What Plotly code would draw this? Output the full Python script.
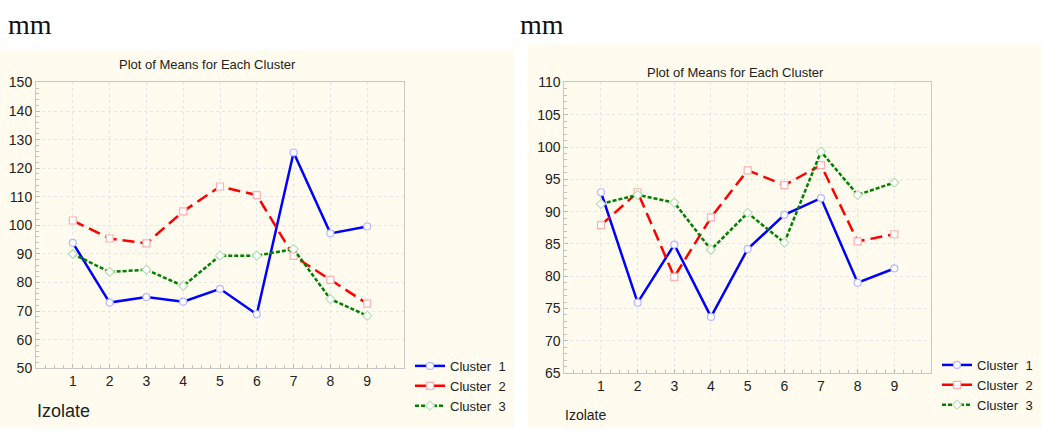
import plotly.graph_objects as go

W, H = 1042, 436

izolates = [1, 2, 3, 4, 5, 6, 7, 8, 9]
cluster_names = ["Cluster\u00a0 1", "Cluster\u00a0 2", "Cluster\u00a0 3"]

left_c1 = [93.9, 73.0, 74.9, 73.3, 77.8, 68.9, 125.5, 97.2, 99.6]
left_c2 = [101.7, 95.4, 93.7, 104.9, 113.6, 110.6, 89.3, 80.9, 72.6]
left_c3 = [90.0, 83.7, 84.5, 78.8, 89.4, 89.4, 91.7, 74.2, 68.4]

right_c1 = [93.0, 75.9, 84.9, 73.7, 84.2, 89.5, 92.1, 79.0, 81.2]
right_c2 = [87.9, 93.0, 79.9, 89.1, 96.4, 94.1, 97.2, 85.4, 86.5]
right_c3 = [91.2, 92.6, 91.4, 84.1, 89.8, 85.2, 99.3, 92.6, 94.5]

left_yticks = [50, 60, 70, 80, 90, 100, 110, 120, 130, 140, 150]
right_yticks = [65, 70, 75, 80, 85, 90, 95, 100, 105, 110]

line_styles = [
    dict(color="#0000ff", dash="solid", symbol="circle", edge="#b4b8ff"),
    dict(color="#ff0000", dash="12px,6px", symbol="square", edge="#ffb0b0"),
    dict(color="#008000", dash="4px,2px", symbol="diamond", edge="#b8e0b8"),
]

def px(x):
    return x / W

def py(y):
    return 1 - y / H

fig = go.Figure()

panels = [
    ("x", "y", "legend", [left_c1, left_c2, left_c3]),
    ("x2", "y2", "legend2", [right_c1, right_c2, right_c3]),
]
for xa, ya, leg, series in panels:
    for name, vals, st in zip(cluster_names, series, line_styles):
        fig.add_trace(go.Scatter(
            x=izolates, y=vals, name=name, mode="lines+markers",
            xaxis=xa, yaxis=ya, legend=leg,
            line=dict(color=st["color"], width=2.5, dash=st["dash"]),
            marker=dict(symbol=st["symbol"], size=7, color="white",
                        line=dict(color=st["edge"], width=1.2)),
        ))

font = "Liberation Sans, Arial, sans-serif"
axis_common = dict(
    showline=True, mirror=True, linecolor="#c8c8c8", linewidth=1,
    showgrid=True, gridcolor="#e6e6e6", griddash="dot", gridwidth=1,
    ticks="inside", ticklen=4, tickcolor="#bbbbbb",
    zeroline=False, tickfont=dict(family=font, size=14, color="#222222"),
)

fig.update_layout(
    width=W, height=H, autosize=False,
    margin=dict(l=0, r=0, t=0, b=0),
    paper_bgcolor="white", plot_bgcolor="white",
    xaxis=dict(domain=[px(36), px(404)], range=[0, 10], tickvals=izolates,
               minor=dict(dtick=0.25, tick0=0, ticks="inside", ticklen=3, tickcolor="#c0c0c0", showgrid=False),
               anchor="y", **axis_common),
    yaxis=dict(domain=[py(374), py(77.3)], range=[50, 150], tickvals=left_yticks,
               minor=dict(dtick=2, tick0=50, ticks="inside", ticklen=3, tickcolor="#c0c0c0", showgrid=False),
               anchor="x", **axis_common),
    xaxis2=dict(domain=[px(564.3), px(931)], range=[0, 10], tickvals=izolates,
                minor=dict(dtick=0.25, tick0=0, ticks="inside", ticklen=3, tickcolor="#c0c0c0", showgrid=False),
                anchor="y2", **axis_common),
    yaxis2=dict(domain=[py(379), py(77.3)], range=[65, 110], tickvals=right_yticks,
                minor=dict(dtick=1, tick0=65, ticks="inside", ticklen=3, tickcolor="#c0c0c0", showgrid=False),
                anchor="x2", **axis_common),
    legend=dict(x=px(410), y=py(356), xanchor="left", yanchor="top",
                bgcolor="rgba(0,0,0,0)", font=dict(family=font, size=13, color="#222222"),
                tracegroupgap=0, itemwidth=30),
    legend2=dict(x=px(937), y=py(355), xanchor="left", yanchor="top",
                 bgcolor="rgba(0,0,0,0)", font=dict(family=font, size=13, color="#222222"),
                 tracegroupgap=0, itemwidth=30),
    showlegend=True,
)

# cream panel backgrounds
fig.add_shape(type="rect", xref="paper", yref="paper", x0=px(0), x1=px(514), y0=py(436), y1=py(44),
              fillcolor="#fffcef", line=dict(width=0), layer="below")
fig.add_shape(type="rect", xref="paper", yref="paper", x0=px(528), x1=px(1042), y0=py(436), y1=py(38),
              fillcolor="#fffcef", line=dict(width=0), layer="below")

annos = [
    dict(text="mm", x=px(6), y=py(17), size=28, fam="Liberation Serif, Times New Roman, serif", xanchor="left", color="#111111"),
    dict(text="mm", x=px(518), y=py(17), size=28, fam="Liberation Serif, Times New Roman, serif", xanchor="left", color="#111111"),
    dict(text="Plot of Means for Each Cluster", x=px(207), y=py(59), size=13, fam=font, xanchor="center", color="#222222"),
    dict(text="Plot of Means for Each Cluster", x=px(735), y=py(67), size=13, fam=font, xanchor="center", color="#222222"),
    dict(text="Izolate", x=px(35), y=py(418), size=18, fam=font, xanchor="left", color="#222222"),
    dict(text="Izolate", x=px(563), y=py(422), size=14, fam=font, xanchor="left", color="#222222"),
]
for a in annos:
    fig.add_annotation(text=a["text"], x=a["x"], y=a["y"], xref="paper", yref="paper",
                       xanchor=a["xanchor"], yanchor="middle", showarrow=False,
                       font=dict(family=a["fam"], size=a["size"], color=a["color"]))

fig.write_html("out.html")
